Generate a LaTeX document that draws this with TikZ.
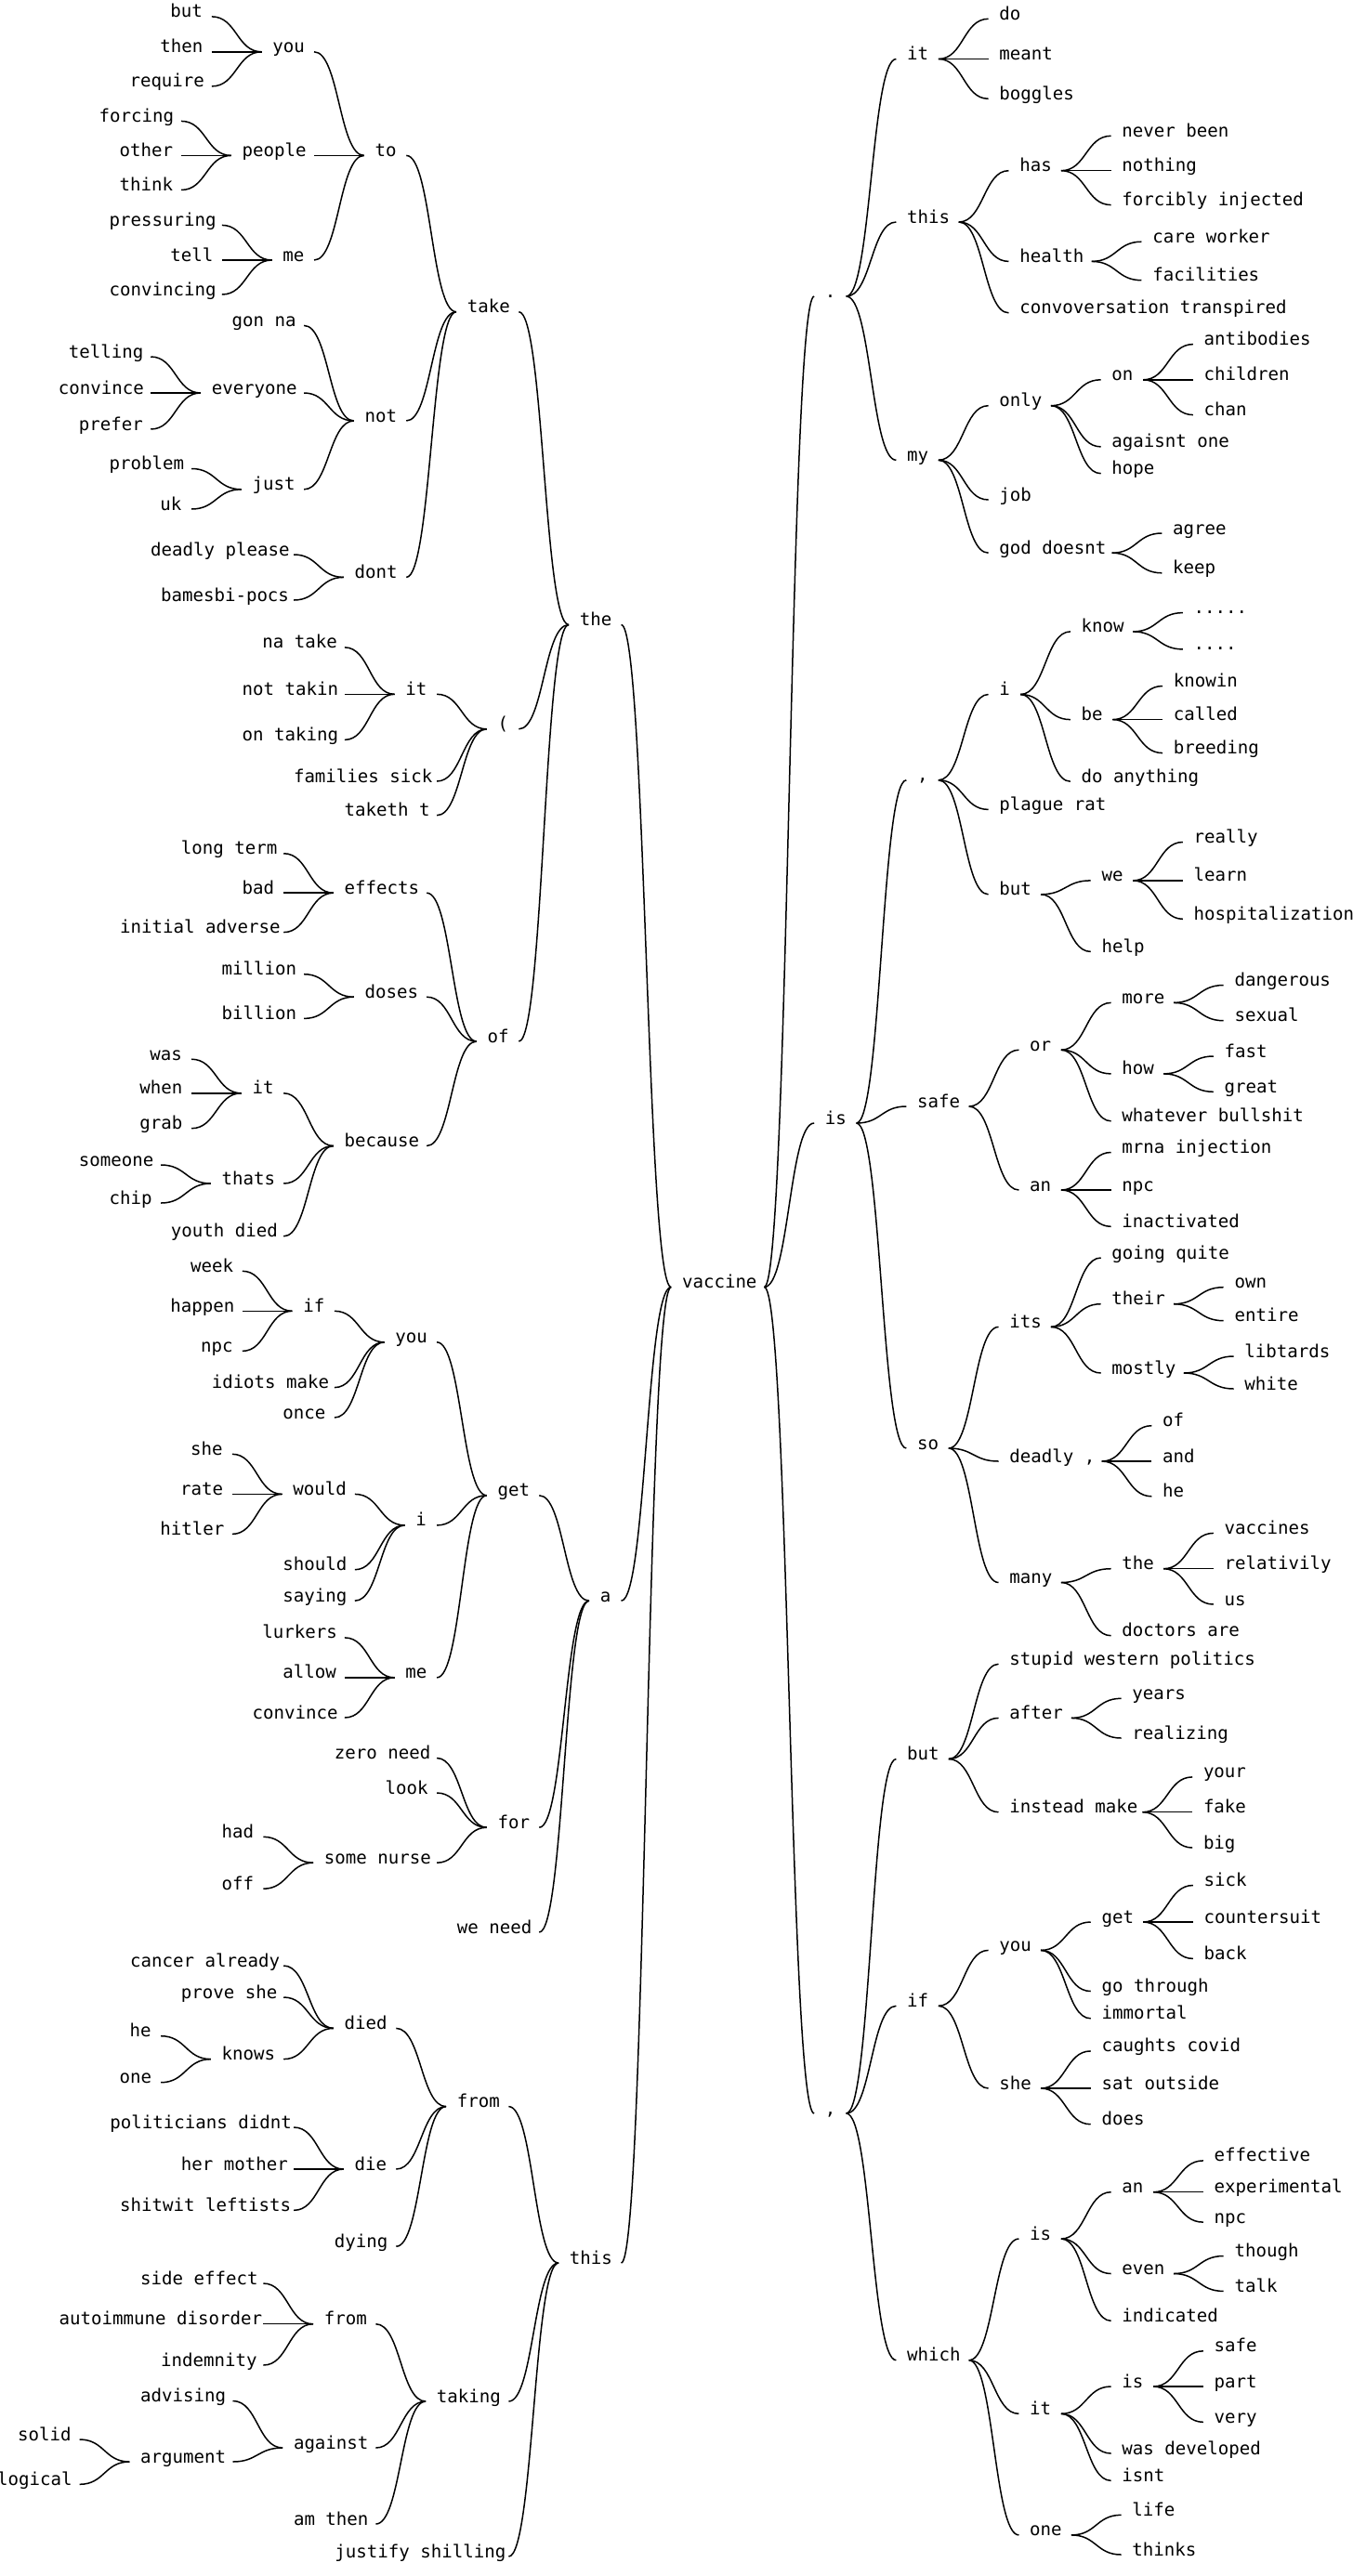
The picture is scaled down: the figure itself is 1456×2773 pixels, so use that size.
\documentclass[tikz,border=0pt]{standalone}
\usepackage{fontspec}
\newfontfamily\wtfont{DejaVu Sans Mono}
\usetikzlibrary{calc}
\newsavebox\wtsave
\newcommand\wtbox[1]{\sbox\wtsave{#1}\makebox[0.952\wd\wtsave][l]{\usebox\wtsave}}
\def\Lgap{53.7}
\tikzset{
  wt/.style={inner xsep=11.6pt, inner ysep=0pt, text height=8pt, text depth=6pt,
    font=\wtfont\fontsize{19.1}{23}\selectfont, text=black},
  link/.style={draw=black, line width=1.5pt,
    to path={.. controls ($(\tikztostart)!0.5!(\tikztotarget|-\tikztostart)$) and ($(\tikztotarget)!0.5!(\tikztostart|-\tikztotarget)$) .. (\tikztotarget)}}
}
\newcommand\LN[4]{%
  \node[wt, anchor=east] (#1) at ($(#2.west |- 0,#3) + (-\Lgap,0)$) {\wtbox{#4}};
  \draw[link] (#1.east) to (#2.west);}
\newcommand\RN[4]{%
  \node[wt, anchor=west] (#1) at ($(#2.east |- 0,#3) + (\Lgap,0)$) {\wtbox{#4}};
  \draw[link] (#2.east) to (#1.west);}
\begin{document}
\begin{tikzpicture}[x=1pt, y=-1pt]
\useasboundingbox (0,0) rectangle (1456,2773);
\node[wt, anchor=west] (vac) at (722.2,1385.5) {\wtbox{vaccine}};
% ---------------- left tree
\LN{the}{vac}{672.5}{the}
\LN{take}{the}{335.7}{take}
\LN{to}{take}{167.4}{to}
\LN{you1}{to}{55.8}{you}
\LN{but1}{you1}{17.9}{but}
\LN{then}{you1}{55.8}{then}
\LN{require}{you1}{92.9}{require}
\LN{people}{to}{167.4}{people}
\LN{forcing}{people}{130.4}{forcing}
\LN{other}{people}{167.4}{other}
\LN{think}{people}{204.5}{think}
\LN{me1}{to}{280}{me}
\LN{pressuring}{me1}{242.4}{pressuring}
\LN{tell}{me1}{280}{tell}
\LN{convincing}{me1}{317}{convincing}
\LN{not}{take}{453}{not}
\LN{gonna}{not}{350.4}{gon na}
\LN{everyone}{not}{423}{everyone}
\LN{telling}{everyone}{384}{telling}
\LN{convinceA}{everyone}{423}{convince}
\LN{prefer}{everyone}{462}{prefer}
\LN{just}{not}{526.8}{just}
\LN{problem}{just}{504.5}{problem}
\LN{uk}{just}{548}{uk}
\LN{dont}{take}{621.4}{dont}
\LN{deadlyplease}{dont}{597}{deadly please}
\LN{bamesbi}{dont}{646}{bamesbi-pocs}
\LN{paren}{the}{784.8}{(}
\LN{itA}{paren}{747.3}{it}
\LN{natake}{itA}{696.9}{na take}
\LN{nottakin}{itA}{747.3}{not takin}
\LN{ontaking}{itA}{796.4}{on taking}
\LN{families}{paren}{841}{families sick}
\LN{taketh}{paren}{877.7}{taketh t}
\LN{ofA}{the}{1121}{of}
\LN{effects}{ofA}{961.2}{effects}
\LN{longterm}{effects}{918.75}{long term}
\LN{bad}{effects}{961.2}{bad}
\LN{initial}{effects}{1003.6}{initial adverse}
\LN{doses}{ofA}{1073.2}{doses}
\LN{million}{doses}{1048.7}{million}
\LN{billion}{doses}{1096.4}{billion}
\LN{because}{ofA}{1233.5}{because}
\LN{itB}{because}{1176.8}{it}
\LN{was}{itB}{1140.2}{was}
\LN{when}{itB}{1176.8}{when}
\LN{grab}{itB}{1214.7}{grab}
\LN{thats}{because}{1274}{thats}
\LN{someone}{thats}{1254}{someone}
\LN{chip}{thats}{1295}{chip}
\LN{youth}{because}{1330.8}{youth died}
\LN{aA}{vac}{1723.2}{a}
\LN{getA}{aA}{1609.8}{get}
\LN{youB}{getA}{1444.8}{you}
\LN{ifA}{youB}{1411.3}{if}
\LN{week}{ifA}{1368.3}{week}
\LN{happen}{ifA}{1411.3}{happen}
\LN{npcA}{ifA}{1454.4}{npc}
\LN{idiots}{youB}{1493.6}{idiots make}
\LN{once}{youB}{1526}{once}
\LN{iA}{getA}{1641.9}{i}
\LN{would}{iA}{1608.4}{would}
\LN{sheA}{would}{1565.3}{she}
\LN{rate}{would}{1608.4}{rate}
\LN{hitler}{would}{1651.4}{hitler}
\LN{should}{iA}{1689.7}{should}
\LN{saying}{iA}{1723.2}{saying}
\LN{meB}{getA}{1805.9}{me}
\LN{lurkers}{meB}{1762.9}{lurkers}
\LN{allow}{meB}{1805.9}{allow}
\LN{convinceB}{meB}{1849}{convince}
\LN{forA}{aA}{1967.2}{for}
\LN{zeroneed}{forA}{1892.5}{zero need}
\LN{look}{forA}{1930}{look}
\LN{somenurse}{forA}{2005.2}{some nurse}
\LN{had}{somenurse}{1977.3}{had}
\LN{off}{somenurse}{2033.2}{off}
\LN{weneed}{aA}{2080}{we need}
\LN{thisA}{vac}{2436}{this}
\LN{fromA}{thisA}{2267.6}{from}
\LN{died}{fromA}{2183.4}{died}
\LN{cancer}{died}{2116}{cancer already}
\LN{proveshe}{died}{2150}{prove she}
\LN{knows}{died}{2216.6}{knows}
\LN{heA}{knows}{2191.7}{he}
\LN{oneA}{knows}{2241.7}{one}
\LN{die}{fromA}{2335}{die}
\LN{politicians}{die}{2290}{politicians didnt}
\LN{hermother}{die}{2335}{her mother}
\LN{shitwit}{die}{2379.3}{shitwit leftists}
\LN{dying}{fromA}{2418.2}{dying}
\LN{taking}{thisA}{2585}{taking}
\LN{fromB}{taking}{2501.7}{from}
\LN{sideeffect}{fromB}{2458}{side effect}
\LN{autoimmune}{fromB}{2501.7}{autoimmune disorder}
\LN{indemnity}{fromB}{2546}{indemnity}
\LN{against}{taking}{2635}{against}
\LN{advising}{against}{2584.5}{advising}
\LN{argument}{against}{2650}{argument}
\LN{solid}{argument}{2626}{solid}
\LN{logical}{argument}{2674.3}{logical}
\LN{amthen}{taking}{2717}{am then}
\LN{justify}{thisA}{2752}{justify shilling}
% ---------------- right tree
\RN{dot}{vac}{319}{.}
\RN{ritA}{dot}{63.5}{it}
\RN{doA}{ritA}{20.3}{do}
\RN{meant}{ritA}{63.5}{meant}
\RN{boggles}{ritA}{106.3}{boggles}
\RN{rthis}{dot}{239}{this}
\RN{has}{rthis}{183.7}{has}
\RN{neverbeen}{has}{146.3}{never been}
\RN{nothing}{has}{183.7}{nothing}
\RN{forcibly}{has}{220.6}{forcibly injected}
\RN{health}{rthis}{281.4}{health}
\RN{careworker}{health}{260.2}{care worker}
\RN{facilities}{health}{301.7}{facilities}
\RN{convo}{rthis}{336.8}{convoversation transpired}
\RN{my}{dot}{495.3}{my}
\RN{only}{my}{436.7}{only}
\RN{onA}{only}{408.8}{on}
\RN{antibodies}{onA}{370.6}{antibodies}
\RN{children}{onA}{408.8}{children}
\RN{chan}{onA}{446.6}{chan}
\RN{agaisnt}{only}{480.9}{agaisnt one}
\RN{hope}{only}{509.7}{hope}
\RN{job}{my}{538}{job}
\RN{god}{my}{595.2}{god doesnt}
\RN{agree}{god}{574}{agree}
\RN{keep}{god}{616.8}{keep}
\RN{risA}{vac}{1209}{is}
\RN{commaA}{risA}{839.8}{,}
\RN{ri}{commaA}{747.5}{i}
\RN{know}{ri}{679.9}{know}
\RN{dotsfive}{know}{659.6}{.....}
\RN{dotsfour}{know}{698.9}{....}
\RN{be}{ri}{774.6}{be}
\RN{knowin}{be}{738.5}{knowin}
\RN{called}{be}{774.6}{called}
\RN{breeding}{be}{810.6}{breeding}
\RN{doanything}{ri}{841.2}{do anything}
\RN{plague}{commaA}{871.4}{plague rat}
\RN{rbutA}{commaA}{962.8}{but}
\RN{we}{rbutA}{947.9}{we}
\RN{really}{we}{906.5}{really}
\RN{learn}{we}{947.9}{learn}
\RN{hosp}{we}{989.3}{hospitalizations}
\RN{help}{rbutA}{1024.4}{help}
\RN{safeA}{risA}{1191}{safe}
\RN{orA}{safeA}{1130.2}{or}
\RN{more}{orA}{1079.4}{more}
\RN{dangerous}{more}{1060.5}{dangerous}
\RN{sexual}{more}{1098.7}{sexual}
\RN{how}{orA}{1155.9}{how}
\RN{fast}{how}{1137}{fast}
\RN{great}{how}{1175.3}{great}
\RN{whatever}{orA}{1206.8}{whatever bullshit}
\RN{ranA}{safeA}{1281}{an}
\RN{mrna}{ranA}{1240.5}{mrna injection}
\RN{rnpcA}{ranA}{1281}{npc}
\RN{inactivated}{ranA}{1320.3}{inactivated}
\RN{so}{risA}{1559}{so}
\RN{its}{so}{1428.4}{its}
\RN{going}{its}{1354}{going quite}
\RN{their}{its}{1403.7}{their}
\RN{own}{their}{1385.7}{own}
\RN{entire}{their}{1421.7}{entire}
\RN{mostly}{its}{1478}{mostly}
\RN{libtards}{mostly}{1460}{libtards}
\RN{white}{mostly}{1495}{white}
\RN{deadly}{so}{1573}{deadly ,}
\RN{rof}{deadly}{1534.7}{of}
\RN{and}{deadly}{1573}{and}
\RN{rhe}{deadly}{1610.8}{he}
\RN{many}{so}{1703.5}{many}
\RN{rthe}{many}{1688.7}{the}
\RN{vaccines}{rthe}{1650.4}{vaccines}
\RN{relativily}{rthe}{1688.7}{relativily}
\RN{us}{rthe}{1727}{us}
\RN{doctors}{many}{1760.7}{doctors are}
\RN{commaB}{vac}{2275}{,}
\RN{rbutB}{commaB}{1893.5}{but}
\RN{stupid}{rbutB}{1791.3}{stupid western politics}
\RN{after}{rbutB}{1849.4}{after}
\RN{years}{after}{1828.3}{years}
\RN{realizing}{after}{1871}{realizing}
\RN{instead}{rbutB}{1950.7}{instead make}
\RN{your}{instead}{1912.9}{your}
\RN{fake}{instead}{1950.7}{fake}
\RN{big}{instead}{1989}{big}
\RN{rif}{commaB}{2159.3}{if}
\RN{ryou}{rif}{2099.4}{you}
\RN{rget}{ryou}{2069}{get}
\RN{sick}{rget}{2029.5}{sick}
\RN{countersuit}{rget}{2069}{countersuit}
\RN{back}{rget}{2108.4}{back}
\RN{gothrough}{ryou}{2143.5}{go through}
\RN{immortal}{ryou}{2172.8}{immortal}
\RN{rshe}{rif}{2248}{she}
\RN{caughts}{rshe}{2207.9}{caughts covid}
\RN{sat}{rshe}{2248}{sat outside}
\RN{does}{rshe}{2286.7}{does}
\RN{which}{commaB}{2540.7}{which}
\RN{risB}{which}{2410}{is}
\RN{ranB}{risB}{2359.7}{an}
\RN{effective}{ranB}{2325.9}{effective}
\RN{experimental}{ranB}{2359.7}{experimental}
\RN{rnpcB}{ranB}{2392.1}{npc}
\RN{even}{risB}{2447.5}{even}
\RN{though}{even}{2428.5}{though}
\RN{talk}{even}{2466.4}{talk}
\RN{indicated}{risB}{2498.3}{indicated}
\RN{ritB}{which}{2598.3}{it}
\RN{risC}{ritB}{2569}{is}
\RN{rsafeB}{risC}{2530.8}{safe}
\RN{part}{risC}{2569}{part}
\RN{very}{risC}{2607.3}{very}
\RN{wasdev}{ritB}{2641}{was developed}
\RN{isnt}{ritB}{2670.3}{isnt}
\RN{rone}{which}{2728.9}{one}
\RN{life}{rone}{2707.3}{life}
\RN{thinks}{rone}{2750}{thinks}
\end{tikzpicture}
\end{document}
